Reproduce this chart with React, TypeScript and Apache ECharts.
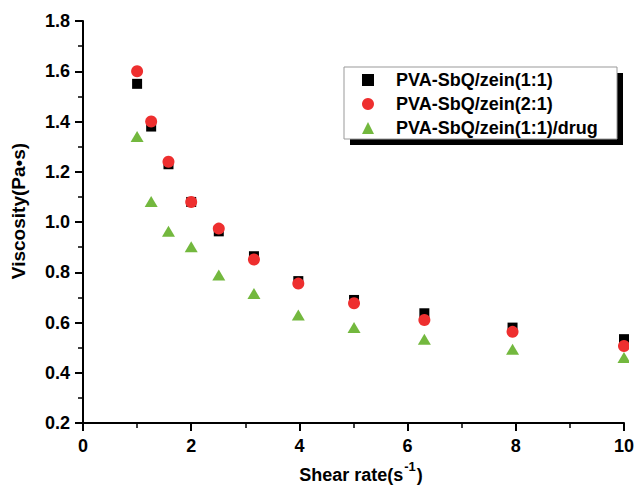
import React, { useEffect, useRef } from "react";
import * as echarts from "echarts";

const shearRate = [1, 1.26, 1.58, 2, 2.51, 3.16, 3.98, 5.01, 6.31, 7.94, 10];
const viscZein11 = [1.55, 1.38, 1.23, 1.08, 0.963, 0.864, 0.765, 0.69, 0.637, 0.58, 0.534];
const viscZein21 = [1.6, 1.4, 1.24, 1.08, 0.974, 0.851, 0.755, 0.677, 0.61, 0.563, 0.507];
const viscDrug = [1.34, 1.082, 0.963, 0.902, 0.789, 0.716, 0.63, 0.58, 0.534, 0.494, 0.461];
const seriesNames = ["PVA-SbQ/zein(1:1)", "PVA-SbQ/zein(2:1)", "PVA-SbQ/zein(1:1)/drug"];

const FONT = "'Liberation Sans', Arial, Helvetica, sans-serif";

export default function App() {
  const ref = useRef<HTMLDivElement>(null);
  useEffect(() => {
    if (!ref.current) return;
    const chart = echarts.init(ref.current, null, { renderer: "svg" });
    const pair = (ys: number[]) => shearRate.map((x, i) => [x, ys[i]]);
    const axisCommon = {
      axisLine: { show: true, onZero: false, lineStyle: { color: "#000", width: 2 } },
      axisTick: { show: true, inside: false, length: 8, lineStyle: { color: "#000", width: 2 } },
      minorTick: { show: true, splitNumber: 2, length: 5, lineStyle: { color: "#000", width: 1.5 } },
      splitLine: { show: false },
      minorSplitLine: { show: false },
      axisLabel: { color: "#000", fontSize: 18, fontWeight: "bold", fontFamily: FONT },
      nameTextStyle: { color: "#000", fontSize: 18, fontWeight: "bold", fontFamily: FONT },
    };
    chart.setOption({
      animation: false,
      backgroundColor: "#fff",
      grid: { left: 83, right: 11, top: 21, bottom: 65, containLabel: false },
      xAxis: {
        type: "value",
        min: 0,
        max: 10,
        interval: 2,
        ...axisCommon,
        axisLabel: { ...axisCommon.axisLabel, margin: 14 },
        name: "{b|Shear rate(s}{sup|-1}{b|)}",
        nameLocation: "middle",
        nameGap: 32,
        nameTextStyle: {
          ...axisCommon.nameTextStyle,
          padding: [0, 0, 0, 15],
          rich: {
            b: { fontSize: 18, fontWeight: "bold", fontFamily: FONT, color: "#000", lineHeight: 30 },
            sup: { fontSize: 13, fontWeight: "bold", fontFamily: FONT, color: "#000", lineHeight: 12, verticalAlign: "top", padding: [0, 1, 0, 1] },
          },
        },
      },
      yAxis: {
        type: "value",
        min: 0.2,
        max: 1.8,
        interval: 0.2,
        ...axisCommon,
        axisLabel: { ...axisCommon.axisLabel, margin: 13, formatter: (v: number) => v.toFixed(1) },
        name: "Viscosity(Pa•s)",
        nameLocation: "middle",
        nameRotate: 90,
        nameGap: 55,
        nameTextStyle: { ...axisCommon.nameTextStyle, fontSize: 19, padding: [0, 0, 0, 22] },
      },
      legend: {
        orient: "vertical",
        left: 362,
        top: 70,
        padding: 0,
        itemWidth: 12,
        itemHeight: 12,
        itemGap: 4,
        z: 10,
        data: seriesNames,
        itemStyle: { opacity: 1 },
        textStyle: { color: "#000", fontSize: 18, fontWeight: "bold", fontFamily: FONT, lineHeight: 20, padding: [0, 0, 0, 17] },
      },
      graphic: [
        { type: "rect", z: 1, shape: { x: 350, y: 73, width: 273, height: 72 }, style: { fill: "#000" } },
        { type: "rect", z: 2, shape: { x: 344, y: 67, width: 273, height: 72 }, style: { fill: "#fff", stroke: "#999", lineWidth: 1 } },
        { type: "rect", z: 100, shape: { x: 629, y: 0, width: 8, height: 422 }, style: { fill: "#fff" } },
      ],
      series: [
        {
          name: seriesNames[0],
          type: "scatter",
          symbol: "rect",
          symbolSize: 10,
          itemStyle: { color: "#000", opacity: 1 },
          data: pair(viscZein11),
          z: 3,
        },
        {
          name: seriesNames[1],
          type: "scatter",
          symbol: "circle",
          symbolSize: 12,
          itemStyle: { color: "#ee2f2f", opacity: 1 },
          data: pair(viscZein21),
          z: 4,
        },
        {
          name: seriesNames[2],
          type: "scatter",
          symbol: "triangle",
          symbolSize: [13, 11],
          itemStyle: { color: "#73b83e", opacity: 1 },
          data: pair(viscDrug),
          z: 5,
        },
      ],
    });
    return () => chart.dispose();
  }, []);
  return <div ref={ref} style={{ width: 637, height: 489, position: "absolute", left: 0, top: 0 }} />;
}
